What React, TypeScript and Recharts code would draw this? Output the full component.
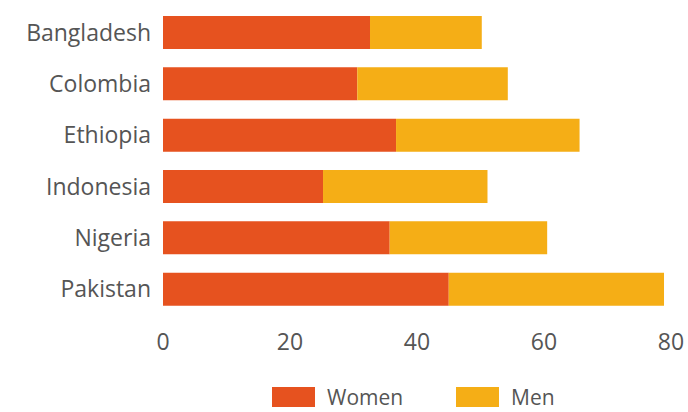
import React from 'react';
import { BarChart, Bar, XAxis, YAxis, Legend } from 'recharts';

const countries = ['Bangladesh', 'Colombia', 'Ethiopia', 'Indonesia', 'Nigeria', 'Pakistan'];
const women = [32.6, 30.6, 36.7, 25.2, 35.7, 45.0];
const men = [17.6, 23.7, 28.9, 25.9, 24.8, 33.9];
const xTicks = [0, 20, 40, 60, 80];
const legendOrder = ['Women', 'Men'];

const WOMEN_COLOR = '#E6521F';
const MEN_COLOR = '#F5AE16';
const TEXT = '#555555';
const FONT = '"Open Sans", Lato, sans-serif';

const data = countries.map((name, i) => ({ name, Women: women[i], Men: men[i] }));

function LegendBox({ payload }: any) {
    const items = legendOrder
        .map((key) => (payload || []).find((p: any) => p.value === key))
        .filter(Boolean);
    return (
        <div style={{ display: 'flex', alignItems: 'center', height: 22, lineHeight: '22px', fontFamily: FONT, fontSize: 21, color: TEXT, paddingLeft: 272 }}>
            {items.map((p: any) => (
                <div key={p.value} style={{ display: 'flex', alignItems: 'center', width: 184 }}>
                    <span style={{ display: 'inline-block', width: 43, height: 20, background: p.color, marginRight: 12 }} />
                    <span>{p.value}</span>
                </div>
            ))}
        </div>
    );
}

export default function App() {
    return (
        <div style={{ position: 'absolute', left: 0, top: 0, width: 688, height: 412, background: '#fff' }}>
            <BarChart
                width={688}
                height={412}
                data={data}
                layout="vertical"
                margin={{ top: 7, right: 17, left: 0, bottom: 35 }}
                barSize={33}
            >
                <XAxis
                    type="number"
                    domain={[0, 80]}
                    ticks={xTicks}
                    axisLine={false}
                    tickLine={false}
                    tickSize={0}
                    tickMargin={19}
                    height={40}
                    tick={{ fill: TEXT, fontSize: 23, fontFamily: FONT }}
                />
                <YAxis
                    type="category"
                    dataKey="name"
                    width={163}
                    axisLine={false}
                    tickLine={false}
                    tickSize={0}
                    tickMargin={12}
                    tick={{ fill: TEXT, fontSize: 23, fontFamily: FONT }}
                />
                <Legend
                    verticalAlign="bottom"
                    height={22}
                    wrapperStyle={{ top: 386, left: 0, width: 688 }}
                    content={<LegendBox />}
                />
                <Bar dataKey="Women" stackId="a" fill={WOMEN_COLOR} isAnimationActive={false} />
                <Bar dataKey="Men" stackId="a" fill={MEN_COLOR} isAnimationActive={false} />
            </BarChart>
        </div>
    );
}
